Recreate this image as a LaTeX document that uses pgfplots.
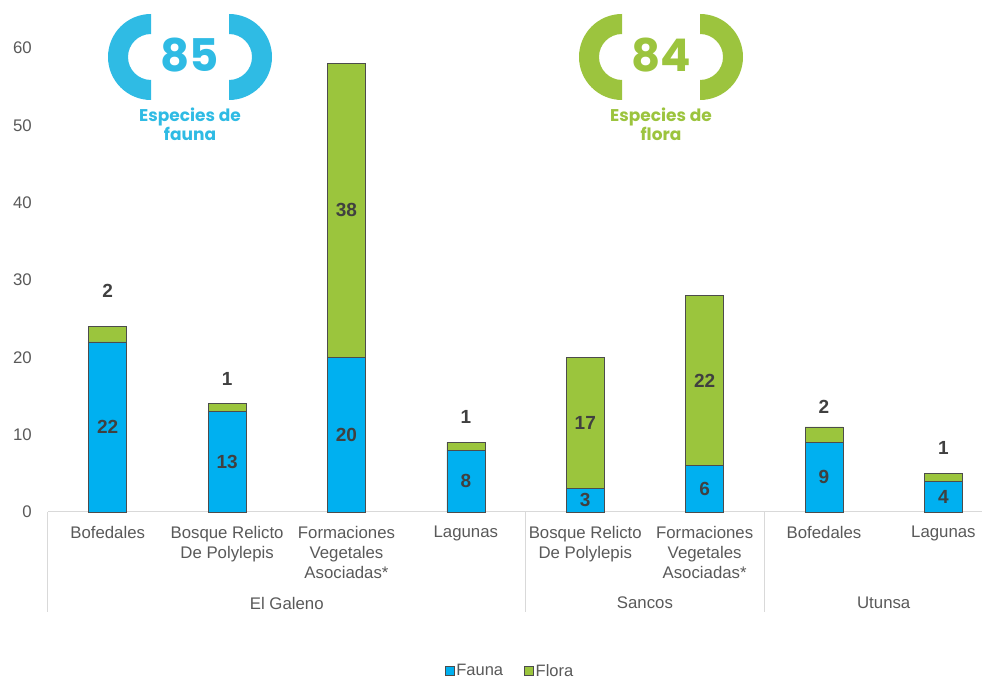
\documentclass[border=0pt]{standalone}
\usepackage{pgfplots}
\pgfplotsset{compat=1.18}
\usepackage{pgfplotstable}
\usepackage{fontspec}
\setmainfont{Liberation Sans}
\newfontfamily\poppins{Poppins}

\definecolor{fauna}{HTML}{00B0F0}
\definecolor{flora}{HTML}{9BC53D}
\definecolor{bfauna}{HTML}{2FBBE4}
\definecolor{bflora}{HTML}{9CC43E}
\definecolor{txt}{HTML}{595959}
\definecolor{lbl}{HTML}{404040}
\definecolor{sep}{HTML}{D9D9D9}

% fy, ly: where the fauna and flora value labels sit
\pgfplotstableread{
x fauna flora fy  ly
0 22    2     11  28.6
1 13    1     6.5 17.2
2 20    38    10  39
3 8     1     4   12.3
4 3     17    1.5 11.5
5 6     22    3   17
6 9     2     4.5 13.6
7 4     1     2   8.3
}\datatable

% badge: left centre, right centre, colour, number, second word
\newcommand\badge[5]{%
  \begin{scope}
    \clip (0,0) rectangle (#1,679);
    \fill[#3,even odd rule] (#1,622) circle[radius=43] (#1,622) circle[radius=23];
  \end{scope}
  \begin{scope}
    \clip (#2,0) rectangle (982,679);
    \fill[#3,even odd rule] (#2,622) circle[radius=43] (#2,622) circle[radius=23];
  \end{scope}
  \node[text=#3, font=\poppins\bfseries\fontsize{45}{45}\selectfont] at ({(#1+#2)/2},624) {#4};
  \node[text=#3, align=center, inner sep=0pt, font=\poppins\bfseries\fontsize{17}{14}\selectfont] at ({(#1+#2)/2},555) {Especies de\\#5};
}

\pgfplotsset{
  frame/.style={scale only axis, width=936pt, height=464pt,
    xmin=-0.5, xmax=7.34, ymin=0, ymax=60, clip=false,
    /pgf/number format/assume math mode=true},
  vlabel/.style={draw=none, mark=none, point meta=explicit, nodes near coords,
    every node near coord/.append style={anchor=center,
      font=\bfseries\fontsize{19}{19}\selectfont, text=lbl}},
}

\begin{document}
\begin{tikzpicture}
\begin{axis}[
    name=ax, frame,
    ybar stacked, bar width=38pt,
    axis line style={draw=none},
    major tick length=0pt,
    ytick={0,10,...,60},
    xtick={0,...,7},
    xticklabels={Bofedales, {Bosque Relicto\\De Polylepis}, {Formaciones\\Vegetales\\Asociadas*}, Lagunas,
                 {Bosque Relicto\\De Polylepis}, {Formaciones\\Vegetales\\Asociadas*}, Bofedales, Lagunas},
    xticklabel style={align=center, anchor=north, inner sep=0pt, yshift=-14pt,
                      font=\fontsize{16.8}{20}\selectfont, text=txt},
    yticklabel style={anchor=east, inner sep=0pt, xshift=-16pt,
                      font=\fontsize{16.8}{18}\selectfont, text=txt},
    legend style={at={(0.4936,-0.3427)}, anchor=center, draw=none, legend columns=2,
                  font=\fontsize{16.5}{16.5}\selectfont, text=txt,
                  /tikz/every even column/.append style={column sep=19pt}},
  ]
  \addplot[fill=fauna, draw=black!70, line width=0.6pt,
    legend image code/.code={\draw[fill=fauna,draw=black!70] (0pt,-4.5pt) rectangle (9pt,4.5pt);}]
    table[x=x, y=fauna]{\datatable};
  \addlegendentry{Fauna}
  \addplot[fill=flora, draw=black!70, line width=0.6pt,
    legend image code/.code={\draw[fill=flora,draw=black!70] (0pt,-4.5pt) rectangle (9pt,4.5pt);}]
    table[x=x, y=flora]{\datatable};
  \addlegendentry{Flora}

  \coordinate (O) at (rel axis cs:0,0);
  \coordinate (Z) at (axis cs:0,0);
  % axis line and group separators
  \draw[sep, line width=1pt] (rel axis cs:0,0) -- (rel axis cs:1,0);
  \draw[sep, line width=1pt] (axis cs:-0.5,0) -- ++(0pt,-100pt);
  \draw[sep, line width=1pt] (axis cs:3.5,0) -- ++(0pt,-100pt);
  \draw[sep, line width=1pt] (axis cs:5.5,0) -- ++(0pt,-100pt);
  \node[text=txt, font=\fontsize{16.8}{18}\selectfont, yshift=-91pt] at (axis cs:1.5,0) {El Galeno};
  \node[text=txt, font=\fontsize{16.8}{18}\selectfont, yshift=-91pt] at (axis cs:4.5,0) {Sancos};
  \node[text=txt, font=\fontsize{16.8}{18}\selectfont, yshift=-91pt] at (axis cs:6.5,0) {Utunsa};
\end{axis}

% value labels, in an overlaid axis so that they are not stacked
\begin{axis}[frame, at={(Z)}, anchor=origin, hide axis]
  \addplot[vlabel] table[x=x, y=fy, meta=fauna]{\datatable};
  \addplot[vlabel] table[x=x, y=ly, meta=flora]{\datatable};
\end{axis}

\pgfresetboundingbox
\path[use as bounding box] ([xshift=-48pt,yshift=-167pt]O) rectangle ++(982pt,679pt);
\begin{scope}[shift={([xshift=-48pt,yshift=-167pt]O)}, x=1pt, y=1pt]
  \badge{151}{229}{bfauna}{85}{fauna}
  \badge{622}{700}{bflora}{84}{flora}
\end{scope}
\end{tikzpicture}
\end{document}
